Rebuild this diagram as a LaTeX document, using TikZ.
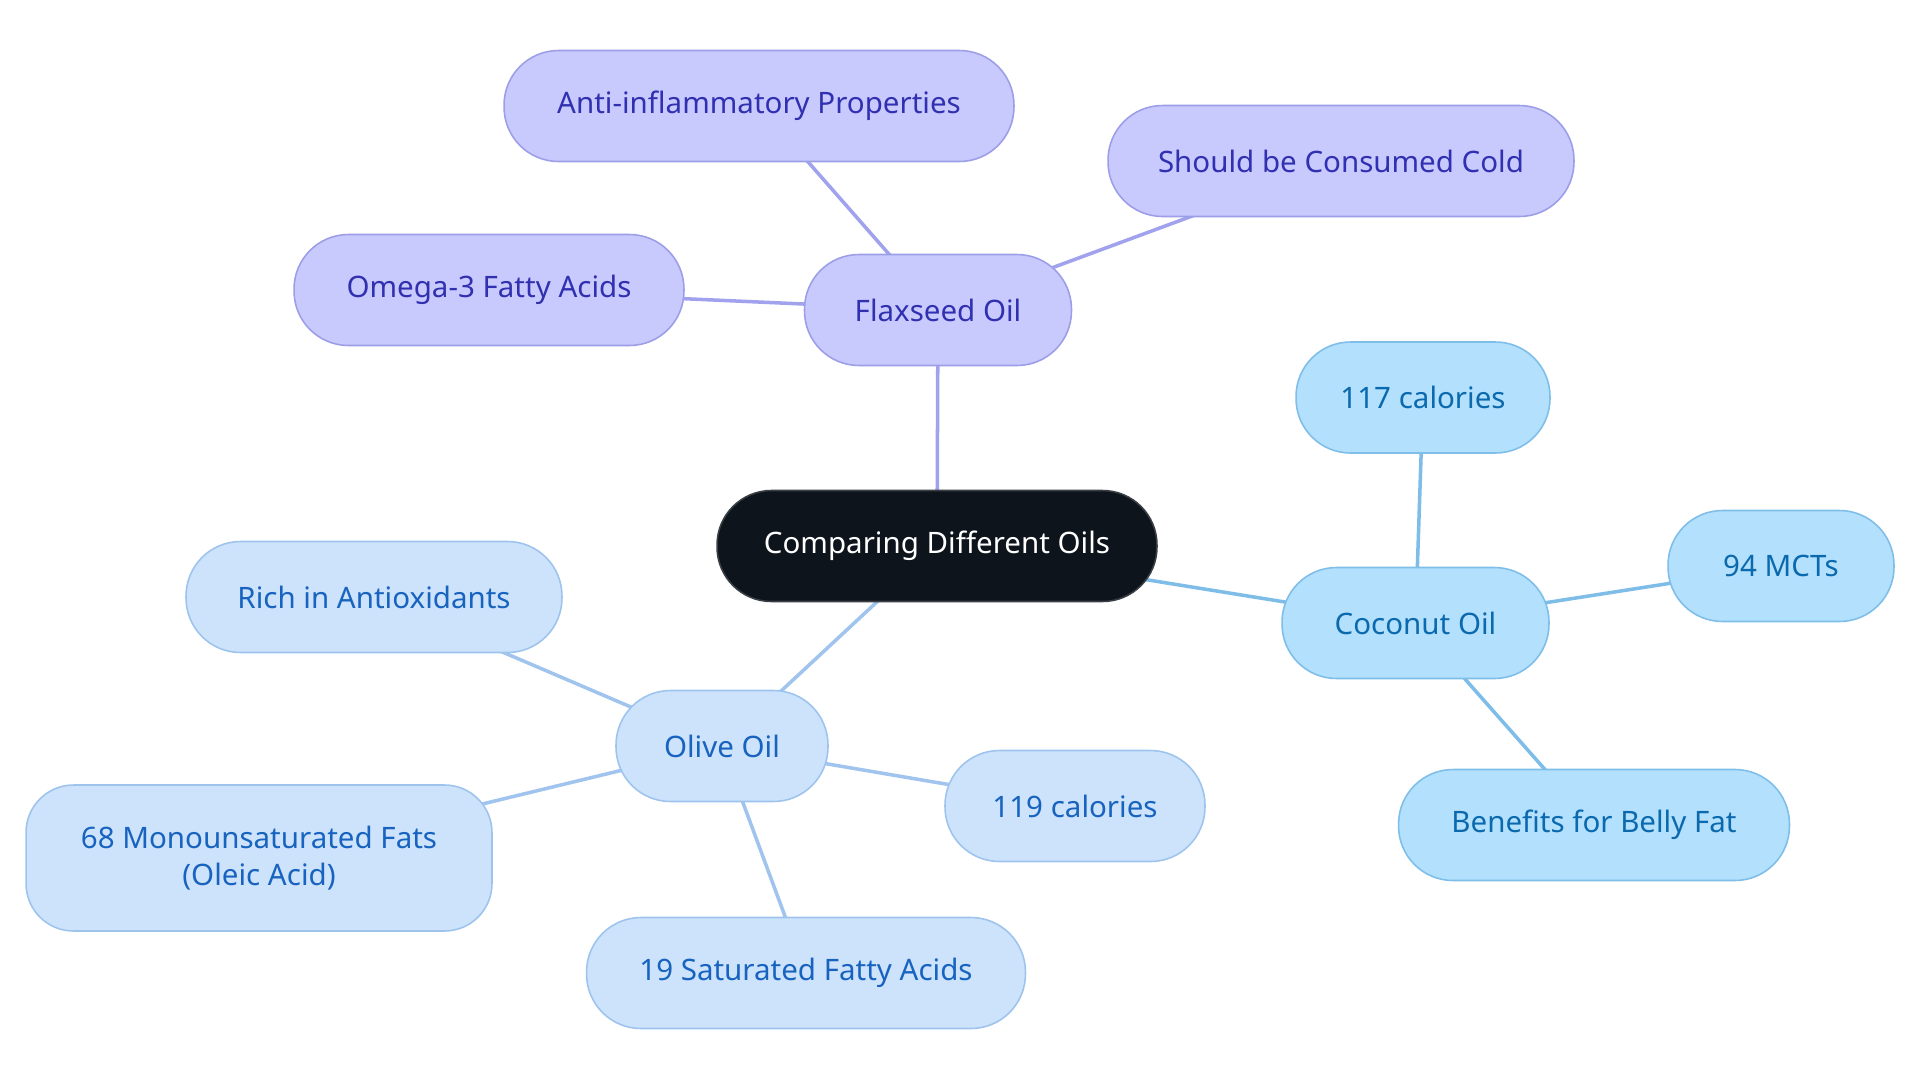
\documentclass[tikz,border=0pt]{standalone}
\usepackage{fontspec}
\setmainfont{Noto Sans}
\usetikzlibrary{backgrounds}
\definecolor{rootfill}{HTML}{0D141C}
\definecolor{rootdraw}{HTML}{3A3F45}
\definecolor{flaxfill}{HTML}{C8CAFE}
\definecolor{flaxdraw}{HTML}{9C9EE8}
\definecolor{flaxtext}{HTML}{3030B0}
\definecolor{flaxline}{HTML}{A0A2EE}
\definecolor{cocofill}{HTML}{B3E0FD}
\definecolor{cocodraw}{HTML}{7FBEE8}
\definecolor{cocotext}{HTML}{0B69AD}
\definecolor{cocoline}{HTML}{7DBDE8}
\definecolor{olivefill}{HTML}{CDE3FB}
\definecolor{olivedraw}{HTML}{9EC4EE}
\definecolor{olivetext}{HTML}{1763BF}
\definecolor{oliveline}{HTML}{A0C4EE}
\begin{document}
\begin{tikzpicture}[x=0.02cm,y=-0.02cm,
  box/.style={rounded corners=31pt, minimum height=2.22cm, inner sep=0pt,
    line width=0.9pt, font=\fontsize{16.8}{21}\selectfont, align=center},
  root/.style={box, fill=rootfill, draw=rootdraw, text=white},
  flax/.style={box, fill=flaxfill, draw=flaxdraw, text=flaxtext},
  coco/.style={box, fill=cocofill, draw=cocodraw, text=cocotext},
  olive/.style={box, fill=olivefill, draw=olivedraw, text=olivetext},
  fedge/.style={draw=flaxline, line width=2pt},
  cedge/.style={draw=cocoline, line width=2pt},
  oedge/.style={draw=oliveline, line width=2pt}]
\useasboundingbox (0,0) rectangle (1920,1083);

\node[root, minimum width=8.8cm] (root) at (937,546) {Comparing Different Oils};

\node[flax, minimum width=5.34cm] (flax) at (938,310) {Flaxseed Oil};
\node[flax, minimum width=10.2cm] (anti) at (759,106) {Anti-inflammatory Properties};
\node[flax, minimum width=9.32cm] (cold) at (1341,161) {Should be Consumed Cold};
\node[flax, minimum width=7.8cm] (omega) at (489,290) {Omega-3 Fatty Acids};

\node[coco, minimum width=5.34cm] (coco) at (1415.5,623) {Coconut Oil};
\node[coco, minimum width=5.08cm] (calA) at (1423,397.5) {117 calories};
\node[coco, minimum width=4.52cm] (mct) at (1781,566) {94 MCTs};
\node[coco, minimum width=7.82cm] (belly) at (1594,825) {Benefits for Belly Fat};

\node[olive, minimum width=4.24cm] (olive) at (722,746) {Olive Oil};
\node[olive, minimum width=7.52cm] (rich) at (374,597) {Rich in Antioxidants};
\node[olive, minimum width=9.32cm, minimum height=2.92cm, rounded corners=27pt] (mono) at (259,858) {68 Monounsaturated Fats\\(Oleic Acid)};
\node[olive, minimum width=5.2cm] (calB) at (1075,806) {119 calories};
\node[olive, minimum width=8.78cm] (sat) at (806,973) {19 Saturated Fatty Acids};

\begin{scope}[on background layer]
\fill[white] (0,0) rectangle (1920,1083);
\draw[fedge] (root.center) -- (flax.center);
\draw[fedge] (flax.center) -- (anti.center);
\draw[fedge] (flax.center) -- (cold.center);
\draw[fedge] (flax.center) -- (omega.center);
\draw[cedge] (root.center) -- (coco.center);
\draw[cedge] (coco.center) -- (calA.center);
\draw[cedge] (coco.center) -- (mct.center);
\draw[cedge] (coco.center) -- (belly.center);
\draw[oedge] (root.center) -- (olive.center);
\draw[oedge] (olive.center) -- (rich.center);
\draw[oedge] (olive.center) -- (mono.center);
\draw[oedge] (olive.center) -- (calB.center);
\draw[oedge] (olive.center) -- (sat.center);
\end{scope}
\end{tikzpicture}
\end{document}
